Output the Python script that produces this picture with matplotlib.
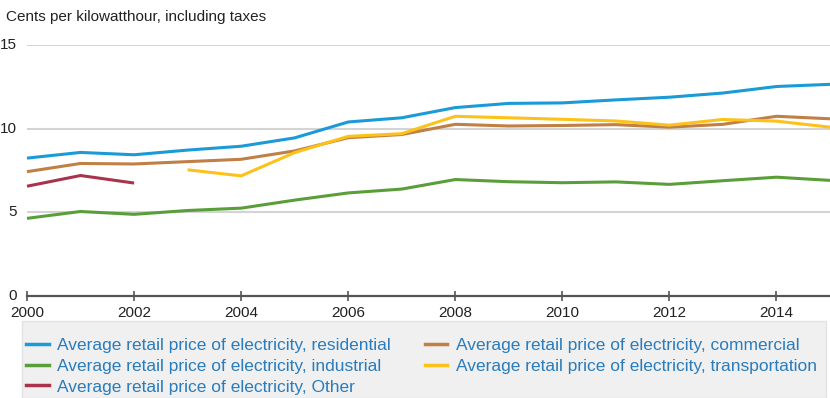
import matplotlib
matplotlib.use('Agg')
import matplotlib.pyplot as plt
from matplotlib.lines import Line2D

plt.rcParams['font.family'] = ['Liberation Sans', 'DejaVu Sans']

years = list(range(2000, 2016))
residential = [8.24, 8.58, 8.44, 8.72, 8.95, 9.45, 10.40, 10.65, 11.26, 11.51, 11.54, 11.72, 11.88, 12.13, 12.52, 12.65]
commercial = [7.43, 7.92, 7.89, 8.03, 8.17, 8.67, 9.46, 9.65, 10.26, 10.16, 10.19, 10.24, 10.09, 10.26, 10.74, 10.59]
industrial = [4.64, 5.05, 4.88, 5.11, 5.25, 5.73, 6.16, 6.39, 6.96, 6.83, 6.77, 6.82, 6.67, 6.89, 7.10, 6.91]
trans_years = list(range(2003, 2016))
transportation = [7.54, 7.18, 8.57, 9.54, 9.70, 10.74, 10.65, 10.56, 10.46, 10.21, 10.55, 10.45, 10.09]
other_years = [2000, 2001, 2002]
other = [6.56, 7.20, 6.75]

labels = ['Average retail price of electricity, residential',
          'Average retail price of electricity, commercial',
          'Average retail price of electricity, industrial',
          'Average retail price of electricity, transportation',
          'Average retail price of electricity, Other']
colors = ['#1b9ad8', '#c07f45', '#5a9e3a', '#fcc21b', '#a8334c']

fig = plt.figure(figsize=(8.3, 3.98), dpi=100)
ax = fig.add_axes([27/830, 1 - 296/398, 1 - 27/830, (296 - 45)/398])

series = [(years, residential), (years, commercial), (years, industrial),
          (trans_years, transportation), (other_years, other)]
for (x, y), c in zip(series, colors):
    ax.plot(x, y, color=c, lw=2.2, solid_capstyle='butt', zorder=3, clip_on=False)

ax.set_xlim(2000, 2015)
ax.set_ylim(0, 15)
ax.set_xticks(range(2000, 2015, 2))
ax.set_yticks([0, 5, 10, 15])
for v in [5, 10, 15]:
    ax.axhline(v, color='#d4d4d4', lw=1.5, zorder=1)
for s in ['top', 'right', 'left']:
    ax.spines[s].set_visible(False)
ax.spines['bottom'].set_color('#555555')
ax.spines['bottom'].set_linewidth(1.6)
ax.tick_params(axis='x', direction='inout', length=7, width=1.2, color='#555555',
               labelsize=11, pad=4, labelcolor='#222222')
ax.tick_params(axis='y', length=0, labelsize=11, pad=7, labelcolor='#222222')
for t in ax.get_yticklabels():
    t.set_verticalalignment('center')

fig.text(6/830, 1 - 17/398, 'Cents per kilowatthour, including taxes', fontsize=11,
         color='#222222', va='center', ha='left')

# legend box
box = plt.Rectangle((22/830, 0), (826 - 22)/830, 1 - 321/398, transform=fig.transFigure,
                    facecolor='#f0f0f0', edgecolor='#e2e2e2', lw=1, zorder=0)
fig.patches.append(box)
order = [0, 2, 4, 1, 3]
handles = [Line2D([], [], color=colors[i], lw=2.5) for i in order]
leg = fig.legend(handles, [labels[i] for i in order], ncol=2, loc='upper left',
                 bbox_to_anchor=(26/830, 1 - 338/398), frameon=False, fontsize=12.5,
                 handlelength=1.3, handletextpad=0.5, columnspacing=1.95,
                 labelspacing=0.32, borderaxespad=0, borderpad=0)
for t in leg.get_texts():
    t.set_color('#2a7cbc')

fig.savefig('out.png', dpi=100)
